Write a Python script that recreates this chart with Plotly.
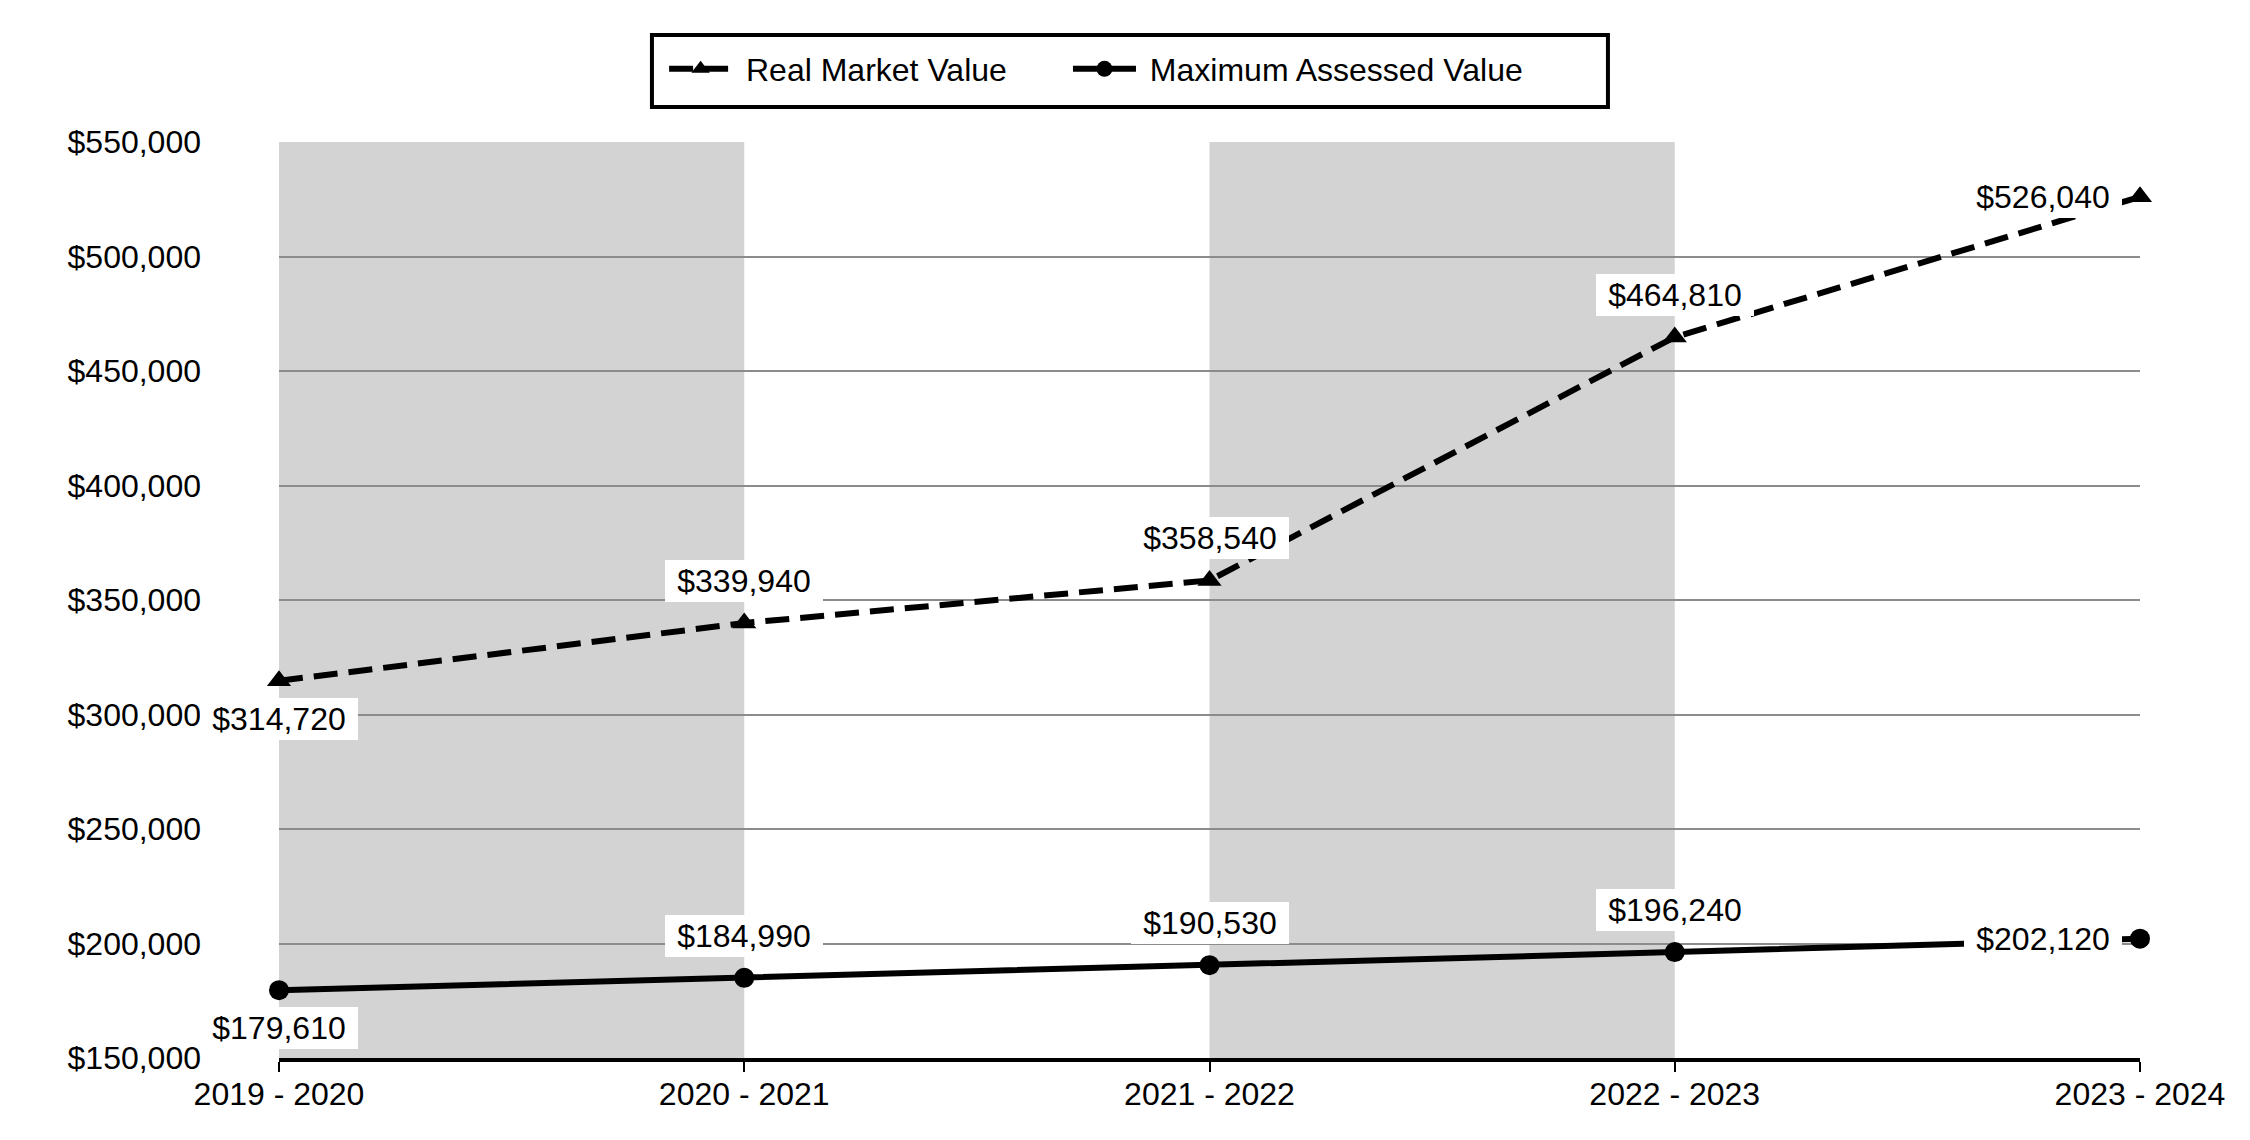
import plotly.graph_objects as go

# ---- data ----
years = ["2019 - 2020", "2020 - 2021", "2021 - 2022", "2022 - 2023", "2023 - 2024"]
real_market_value = [314720, 339940, 358540, 464810, 526040]
max_assessed_value = [179610, 184990, 190530, 196240, 202120]
rmv_label_side = ["below", "above", "above", "above", "left"]
mav_label_side = ["below", "above", "above", "above", "left"]
y_ticks = [150000, 200000, 250000, 300000, 350000, 400000, 450000, 500000, 550000]
shaded_spans = [(0, 1), (2, 3)]

FONT = "Liberation Sans, Arial, sans-serif"
FS = 32
NB = "\u00a0"

fig = go.Figure()

fig.add_trace(go.Scatter(
    x=years, y=real_market_value, name=NB + "Real Market Value",
    mode="lines+markers", cliponaxis=False, legend="legend",
    line=dict(color="black", width=6, dash="24px,11px"),
    marker=dict(symbol="triangle-up", size=21, color="black"),
))
fig.add_trace(go.Scatter(
    x=years, y=max_assessed_value, name=NB + "Maximum Assessed Value",
    mode="lines+markers", cliponaxis=False, legend="legend2",
    line=dict(color="black", width=6),
    marker=dict(symbol="circle", size=20, color="black"),
))

for a, b in shaded_spans:
    fig.add_shape(type="rect", xref="x", yref="paper", x0=a, x1=b, y0=0, y1=1,
                  fillcolor="#d3d3d3", line=dict(width=0), layer="below")

# legend frame
fig.add_shape(type="rect", xref="paper", yref="paper",
              x0=0.2004, x1=0.7141, y0=1.0382, y1=1.1168,
              line=dict(color="black", width=4), fillcolor="rgba(0,0,0,0)")

def add_labels(values, sides):
    for i, (v, side) in enumerate(zip(values, sides)):
        xs, ys = 0, 0
        if side == "above":
            ys = 42
        elif side == "below":
            ys = -38
        else:
            xs = -97
        fig.add_annotation(
            x=years[i], y=v, text="${:,}".format(v), showarrow=False,
            xshift=xs, yshift=ys, bgcolor="white", borderpad=0, borderwidth=0,
            width=158, height=42,
            font=dict(family=FONT, size=FS, color="black"),
        )

add_labels(real_market_value, rmv_label_side)
add_labels(max_assessed_value, mav_label_side)

legend_common = dict(
    orientation="h", xref="container", yref="container",
    xanchor="left", y=0.9465, yanchor="middle",
    borderwidth=0, bgcolor="rgba(0,0,0,0)",
    font=dict(family=FONT, size=FS, color="black"),
    itemwidth=63,
)

fig.update_layout(
    width=2250, height=1140,
    margin=dict(l=271, r=118, t=134, b=90),
    paper_bgcolor="white", plot_bgcolor="white",
    font=dict(family=FONT, size=FS, color="black"),
    showlegend=True,
    legend=dict(x=0.2916, **legend_common),
    legend2=dict(x=0.4711, **legend_common),
    xaxis=dict(
        type="category", range=[0, 4], showgrid=False, zeroline=False,
        showline=True, linecolor="black", linewidth=4,
        ticks="outside", ticklen=10, tickwidth=2, tickcolor="black",
        ticklabelstandoff=-5,
        tickfont=dict(family=FONT, size=FS, color="black"),
    ),
    yaxis=dict(
        range=[150000, 550000], tickvals=y_ticks,
        ticktext=["${:,}".format(t) for t in y_ticks],
        showgrid=True, gridcolor="#8c8c8c", gridwidth=2, zeroline=False,
        showline=False, ticks="", ticklabelstandoff=77,
        tickfont=dict(family=FONT, size=FS, color="black"),
    ),
)

fig.write_html("out.html")
